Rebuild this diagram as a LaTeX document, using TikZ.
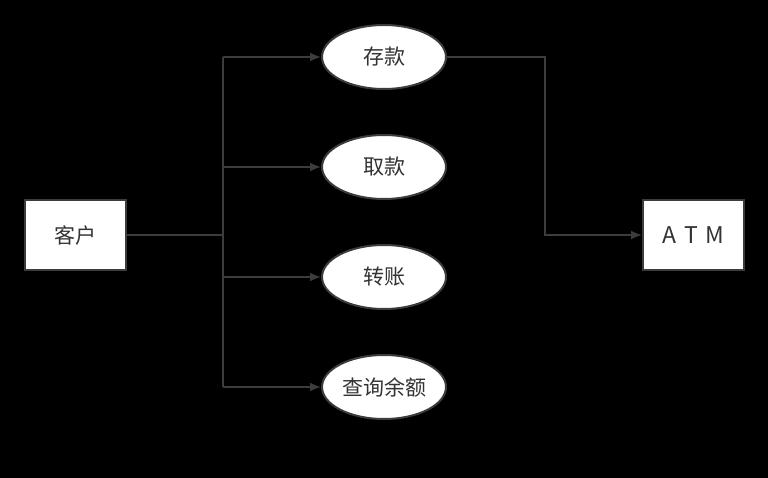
\documentclass[tikz,border=0pt]{standalone}
\usepackage{fontspec}
\setmainfont{Noto Sans CJK SC}
\usetikzlibrary{arrows.meta,shapes.geometric}
\definecolor{linegray}{HTML}{3C3C3C}
\definecolor{textgray}{HTML}{333333}
\begin{document}
\begin{tikzpicture}[x=1pt,y=-1pt,
  actor/.style={draw=linegray,line width=2pt,fill=white,minimum width=101pt,minimum height=70pt,
    inner sep=0pt,text=textgray,font=\fontsize{21}{24}\selectfont},
  usecase/.style={ellipse,draw=linegray,line width=2pt,fill=white,minimum width=124pt,minimum height=64pt,
    inner sep=0pt,text=textgray,font=\fontsize{21}{24}\selectfont},
  link/.style={draw=linegray,line width=1.8pt},
  arrow/.style={link,-{Latex[length=11pt,width=9pt]}}]
  % black backdrop fixing the page size
  \fill[black] (0,0) rectangle (768,478);
  \useasboundingbox (0,0) rectangle (768,478);

  \node[actor] (client) at (75.5,235) {客户};
  \node[actor,font=\fontsize{23}{26}\selectfont] (atm) at (693.5,235) {A\,\,T\,\,M};

  \node[usecase] (deposit) at (384,57) {存款};
  \node[usecase] (withdraw) at (384,167) {取款};
  \node[usecase] (transfer) at (384,277) {转账};
  \node[usecase] (balance) at (384,387) {查询余额};

  % branching trunk from the client to each service
  \coordinate (trunkTop) at (223,57);
  \coordinate (trunkBot) at (223,387);
  \draw[link] (client.east) -- (client.east -| trunkTop);
  \draw[link] (trunkTop) -- (trunkBot);
  \draw[arrow] (trunkTop) -- (deposit.west);
  \draw[arrow] (trunkTop |- withdraw.west) -- (withdraw.west);
  \draw[arrow] (trunkTop |- transfer.west) -- (transfer.west);
  \draw[arrow] (trunkBot) -- (balance.west);

  % deposit routed to the ATM
  \coordinate (bend) at (545,57);
  \draw[arrow] (deposit.east) -- (bend) |- (atm.west);
\end{tikzpicture}
\end{document}
